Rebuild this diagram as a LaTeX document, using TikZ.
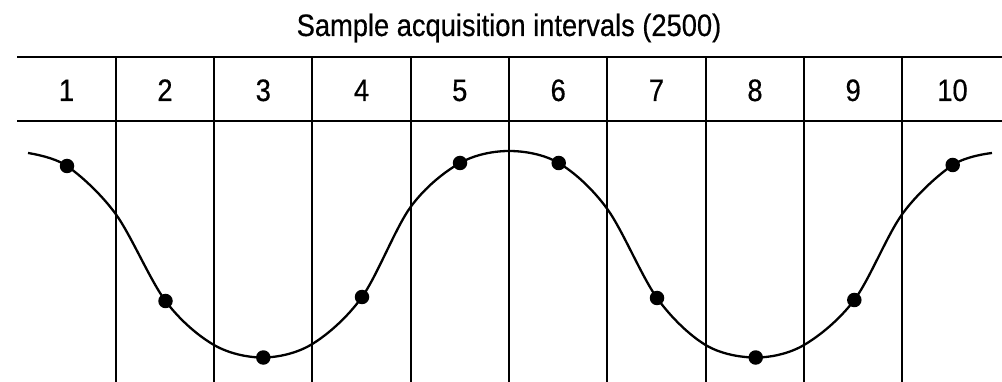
\documentclass[tikz,border=0pt]{standalone}
\usepackage{fontspec}
\setmainfont[FakeStretch=0.88,FakeBold=0.5]{Liberation Sans}
\begin{document}
\begin{tikzpicture}[x=1pt,y=-1pt,
  gridline/.style={line width=2.2pt,black},
  wave/.style={line width=2.3pt,black},
  sdot/.style={circle,fill=black,inner sep=0pt,minimum size=14.5pt},
  lbl/.style={anchor=base,inner sep=0pt,font=\fontsize{31}{36}\selectfont}]
\useasboundingbox (0,0) rectangle (1002,382);
% title
\node[lbl] (title) at (509,36) {Sample acquisition intervals (2500)};
% horizontal lines
\draw[gridline] (17,57) -- (1002,57);
\draw[gridline] (17,121) -- (1002,121);
% vertical lines
\foreach \i/\x in {1/115.7,2/214,3/312.3,4/410.6,5/509,6/607.3,7/705.6,8/804,9/902.3}{
  \draw[gridline] (\x,57) -- (\x,382);
}
% numbers
\foreach \n/\x in {1/66.5,2/165,3/263.3,4/361.5,5/459.8,6/558.2,7/656.5,8/755,9/853.2,10/952.5}{
  \node[lbl] (n\n) at (\x,101) {\n};
}
% curve points
\coordinate (c0) at (28,153);
\coordinate (p1) at (67,166);
\coordinate (c1) at (115.7,214);
\coordinate (p2) at (165.5,301);
\coordinate (c2) at (214,345);
\coordinate (p3) at (263.3,357.5);
\coordinate (c3) at (312.3,344);
\coordinate (p4) at (362,297);
\coordinate (c4) at (410.6,207);
\coordinate (p5) at (460,163);
\coordinate (c5) at (509,151);
\coordinate (p6) at (558.7,163);
\coordinate (c6) at (607.3,209);
\coordinate (p7) at (657,298);
\coordinate (c7) at (705.6,345);
\coordinate (p8) at (755.7,357.5);
\coordinate (c8) at (804,345);
\coordinate (p9) at (854.3,300);
\coordinate (c9) at (902.3,214);
\coordinate (p10) at (952.7,165);
\coordinate (c10) at (992,153);
\draw[wave] plot[smooth,tension=0.55] coordinates {(c0) (p1) (c1) (p2) (c2) (p3) (c3) (p4) (c4) (p5) (c5) (p6) (c6) (p7) (c7) (p8) (c8) (p9) (c9) (p10) (c10)};
\foreach \k in {1,...,10}{
  \node[sdot] (d\k) at (p\k) {};
}
\end{tikzpicture}
\end{document}
